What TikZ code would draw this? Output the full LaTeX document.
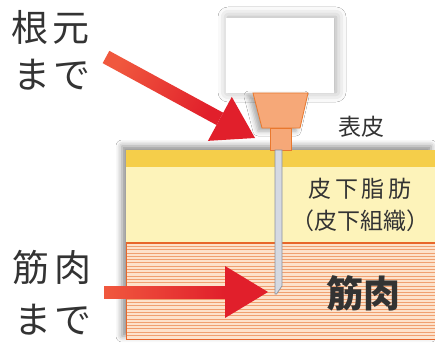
\documentclass[tikz,border=0pt]{standalone}
\usepackage{fontspec}
\newfontfamily\jp{Noto Sans CJK JP}
\usetikzlibrary{calc,shadows.blur}

\definecolor{skinyellow}{HTML}{F5CE4A}
\definecolor{fatyellow}{HTML}{FDF3BA}
\definecolor{musclebg}{HTML}{FDE2CB}
\definecolor{muscleline}{HTML}{F0A070}
\definecolor{muscleedge}{HTML}{E8672A}
\definecolor{hubfill}{HTML}{F6A878}
\definecolor{hubedge}{HTML}{E9782E}
\definecolor{needlefill}{HTML}{D5D9E2}
\definecolor{needleedge}{HTML}{8C929C}
\definecolor{arrowred}{HTML}{E11F2B}
\definecolor{arrowlight}{HTML}{F0583E}
\definecolor{textgray}{HTML}{333333}

\tikzset{
  bigtext/.style={text=textgray, inner sep=0pt, align=left,
    font=\jp\fontsize{37}{47}\selectfont},
  smalltext/.style={text=textgray, inner sep=0pt, align=center,
    font=\jp\fontsize{23}{32}\selectfont},
  softshadow/.style={blur shadow={shadow xshift=-4pt, shadow yshift=4pt,
    shadow blur radius=6pt, shadow opacity=45}},
}

\begin{document}
\begin{tikzpicture}[x=1pt, y=-1pt]
  \useasboundingbox[fill=white] (0,0) rectangle (435,342);

  % skin block: epidermis, fat, muscle
  \fill[white, softshadow] (126,150) rectangle (435,340);
  \fill[skinyellow] (126,150) rectangle (435,167);
  \fill[fatyellow] (126,167) rectangle (435,243);
  \fill[musclebg] (126,243) rectangle (435,340);
  \foreach \y in {246.3,249.6,...,338}
    \draw[muscleline, line width=0.8pt] (127,\y) -- (435,\y);
  \draw[muscleedge, line width=1.2pt] (435,243) -- (126.6,243) -- (126.6,339.4) -- (435,339.4);

  % syringe body
  \fill[white, blur shadow={shadow xshift=2pt, shadow yshift=1pt,
    shadow blur radius=10pt, shadow opacity=35}] (226,18) rectangle (334,93);

  % hub and needle
  \filldraw[hubfill, draw=hubedge, line width=0.8pt,
    blur shadow={shadow xshift=-4pt, shadow yshift=-3pt, shadow blur radius=5pt, shadow opacity=35}]
    (253,93) -- (308,93) -- (300,128) -- (262,128) -- cycle;
  \filldraw[hubfill, draw=hubedge, line width=0.8pt] (270,128) rectangle (291,150);
  \filldraw[needlefill, draw=needleedge, line width=0.7pt]
    (275,150) -- (282,150) -- (282,286) -- (276.5,294) -- (275,294) -- cycle;

  % arrow to the root of the needle
  \coordinate (rootFrom) at (106,57);
  \coordinate (rootTo) at (255,138);
  \coordinate (rootBase) at ($(rootTo)!40pt!(rootFrom)$);
  \shade[left color=arrowlight, right color=arrowred, shading angle=61]
    ($(rootFrom)!7pt!90:(rootBase)$) -- ($(rootFrom)!7pt!-90:(rootBase)$)
    -- ($(rootBase)!7pt!90:(rootFrom)$) -- ($(rootBase)!7pt!-90:(rootFrom)$) -- cycle;
  \fill[arrowred] ($(rootBase)!25pt!90:(rootTo)$) -- (rootTo)
    -- ($(rootBase)!25pt!-90:(rootTo)$) -- cycle;

  % arrow into the muscle
  \coordinate (muscleFrom) at (104,292);
  \coordinate (muscleTo) at (268,292);
  \coordinate (muscleBase) at ($(muscleTo)!43pt!(muscleFrom)$);
  \shade[left color=arrowlight, right color=arrowred]
    ($(muscleFrom)!6pt!90:(muscleBase)$) -- ($(muscleFrom)!6pt!-90:(muscleBase)$)
    -- ($(muscleBase)!6pt!90:(muscleFrom)$) -- ($(muscleBase)!6pt!-90:(muscleFrom)$) -- cycle;
  \fill[arrowred] ($(muscleBase)!26pt!90:(muscleTo)$) -- (muscleTo)
    -- ($(muscleBase)!26pt!-90:(muscleTo)$) -- cycle;

  % labels
  \node[bigtext, anchor=north west] (rootText) at (11,10) {根\kern4pt元\\\kern2pt ま\kern3pt で};
  \node[bigtext, anchor=north west, font=\jp\fontsize{37}{52}\selectfont]
    (muscleText) at (12,250) {筋\kern5pt 肉\\\kern2pt ま\kern3pt で};
  \node[smalltext] (skinText) at (361,127) {表皮};
  \node[smalltext] (fatText) at (360,205) {皮\,下\,脂\,肪\\（皮下組織）};
  \node[bigtext, font=\jp\bfseries\fontsize{37}{44}\selectfont] (muscleName) at (363,293) {筋肉};
\end{tikzpicture}
\end{document}
